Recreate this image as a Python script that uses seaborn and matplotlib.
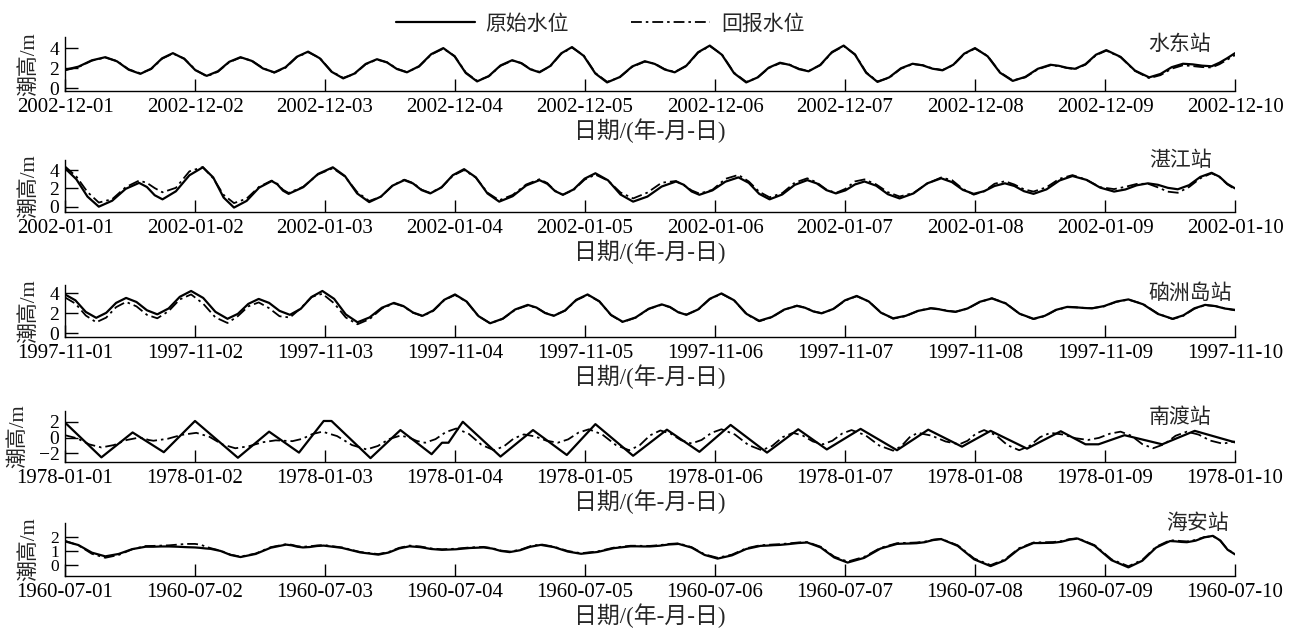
import numpy as np
import pandas as pd
import matplotlib
matplotlib.use("Agg")
import matplotlib.pyplot as plt
import matplotlib.dates as mdates
from matplotlib.lines import Line2D
import seaborn as sns

sns.set_theme(style="ticks")
plt.rcParams["font.family"] = ["Liberation Serif", "Noto Sans CJK SC"]
plt.rcParams["axes.unicode_minus"] = True

# ---------------- data (time in days after the first date, level in m) ----------------
STATIONS = ["水东站", "湛江站", "硇洲岛站", "南渡站", "海安站"]
START_DATES = ["2002-12-01", "2002-01-01", "1997-11-01", "1978-01-01", "1960-07-01"]
LEGEND_LABELS = ["原始水位", "回报水位"]
Y_TICKS = [[0, 2, 4], [0, 2, 4], [0, 2, 4], [-2, 0, 2], [0, 1, 2]]

# 水东站
SD_T = [0, .103, .207, .31, .40, .49, .58, .663, .747, .83, .917, 1.003, 1.09, 1.177, 1.263, 1.35,
        1.437, 1.523, 1.61, 1.697, 1.783, 1.87, 1.96, 2.05, 2.14, 2.227, 2.313, 2.40, 2.477, 2.553,
        2.63, 2.723, 2.817, 2.91, 2.997, 3.083, 3.17, 3.26, 3.35, 3.44, 3.51, 3.58, 3.65, 3.733,
        3.817, 3.90, 3.99, 4.08, 4.17, 4.267, 4.363, 4.46, 4.537, 4.613, 4.69, 4.78, 4.87, 4.96,
        5.053, 5.147, 5.24, 5.327, 5.413, 5.50, 5.573, 5.647, 5.72, 5.81, 5.90, 5.99, 6.077, 6.163,
        6.25, 6.34, 6.43, 6.52, 6.597, 6.673, 6.75, 6.833, 6.917, 7.0, 7.097, 7.193, 7.29, 7.387,
        7.483, 7.58, 7.643, 7.707, 7.77, 7.85, 7.93, 8.01, 8.12, 8.23, 8.34, 8.427, 8.513, 8.60,
        8.673, 8.747, 8.82, 8.88, 8.94, 9.0]
SD_OBS = [1.85, 2.16, 2.79, 3.1, 2.69, 1.86, 1.45, 1.96, 2.99, 3.5, 2.94, 1.81, 1.25, 1.71, 2.64, 3.1,
          2.73, 1.98, 1.6, 2.11, 3.14, 3.65, 2.99, 1.66, 1.0, 1.48, 2.43, 2.9, 2.58, 1.93, 1.6, 2.2,
          3.4, 4.0, 3.18, 1.53, 0.7, 1.23, 2.28, 2.8, 2.5, 1.9, 1.6, 2.23, 3.48, 4.1, 3.23, 1.48, 0.6,
          1.13, 2.18, 2.7, 2.43, 1.88, 1.6, 2.26, 3.59, 4.25, 3.34, 1.51, 0.6, 1.09, 2.06, 2.55, 2.34,
          1.91, 1.7, 2.34, 3.61, 4.25, 3.35, 1.55, 0.65, 1.1, 2.0, 2.45, 2.29, 1.96, 1.8, 2.35, 3.45,
          4.0, 3.19, 1.56, 0.75, 1.15, 1.95, 2.35, 2.25, 2.05, 1.95, 2.41, 3.34, 3.8, 3.13, 1.78, 1.1,
          1.44, 2.11, 2.45, 2.39, 2.26, 2.2, 2.55, 3.0, 3.5]
SD_FC = [1.8, 2.12, 2.76, 3.06, 2.72, 1.9, 1.5, 1.92, 2.95, 3.46, 2.97, 1.85, 1.2, 1.66, 2.6, 3.06,
         2.76, 2.02, 1.56, 2.06, 3.1, 3.6, 3.02, 1.7, 1.05, 1.44, 2.4, 2.86, 2.6, 1.96, 1.62, 2.16,
         3.36, 3.95, 3.22, 1.58, 0.76, 1.2, 2.24, 2.76, 2.53, 1.93, 1.64, 2.2, 3.44, 4.05, 3.27, 1.53,
         0.66, 1.1, 2.14, 2.66, 2.46, 1.92, 1.64, 2.22, 3.55, 4.2, 3.38, 1.56, 0.66, 1.06, 2.02, 2.5,
         2.37, 1.95, 1.74, 2.3, 3.56, 4.2, 3.39, 1.6, 0.7, 1.06, 1.96, 2.41, 2.32, 1.99, 1.83, 2.31,
         3.41, 3.96, 3.23, 1.6, 0.8, 1.1, 1.9, 2.3, 2.22, 2.03, 1.92, 2.36, 3.29, 3.75, 3.1, 1.74,
         1.02, 1.32, 1.96, 2.3, 2.22, 2.12, 2.08, 2.4, 2.85, 3.3]

# 湛江站
ZJ_T = [0, .087, .173, .26, .363, .467, .57, .63, .69, .75, .853, .957, 1.06, 1.14, 1.22, 1.30,
        1.397, 1.493, 1.59, 1.633, 1.677, 1.72, 1.833, 1.947, 2.06, 2.153, 2.247, 2.34, 2.43, 2.52,
        2.61, 2.677, 2.743, 2.81, 2.897, 2.983, 3.07, 3.16, 3.25, 3.34, 3.443, 3.547, 3.65, 3.71,
        3.77, 3.83, 3.913, 3.997, 4.08, 4.177, 4.273, 4.37, 4.48, 4.59, 4.70, 4.76, 4.82, 4.88, 4.98,
        5.08, 5.18, 5.26, 5.34, 5.42, 5.517, 5.613, 5.71, 5.783, 5.857, 5.93, 6.003, 6.077, 6.15,
        6.24, 6.33, 6.42, 6.527, 6.633, 6.74, 6.823, 6.907, 6.99, 7.07, 7.15, 7.23, 7.303, 7.377,
        7.45, 7.55, 7.65, 7.75, 7.857, 7.963, 8.07, 8.157, 8.243, 8.33, 8.407, 8.483, 8.56, 8.647,
        8.733, 8.82, 8.88, 8.94, 9.0]
ZJ_OBS = [4.2, 3.0, 1.1, 0.0, 0.65, 1.95, 2.6, 2.15, 1.25, 0.8, 1.68, 3.43, 4.3, 3.2, 1.0, -0.1,
          0.63, 2.08, 2.8, 2.45, 1.75, 1.4, 2.13, 3.58, 4.3, 3.35, 1.45, 0.5, 1.1, 2.3, 2.9, 2.54,
          1.81, 1.45, 2.11, 3.44, 4.1, 3.21, 1.44, 0.55, 1.14, 2.31, 2.9, 2.5, 1.7, 1.3, 1.89, 3.06,
          3.65, 2.88, 1.33, 0.55, 1.1, 2.2, 2.75, 2.39, 1.66, 1.3, 1.78, 2.73, 3.2, 2.6, 1.4, 0.8,
          1.33, 2.38, 2.9, 2.54, 1.81, 1.45, 1.78, 2.43, 2.75, 2.29, 1.36, 0.9, 1.45, 2.55, 3.1, 2.68,
          1.83, 1.4, 1.69, 2.26, 2.55, 2.26, 1.69, 1.4, 1.89, 2.86, 3.35, 2.93, 2.08, 1.65, 1.88,
          2.33, 2.55, 2.39, 2.06, 1.9, 2.35, 3.25, 3.7, 3.28, 2.5, 2.0]
ZJ_FC = [4.4, 3.3, 1.6, 0.45, 0.82, 2.13, 2.85, 2.6, 2.03, 1.57, 2.06, 3.86, 4.33, 3.1, 1.29, 0.39,
         0.88, 2.17, 2.85, 2.5, 1.85, 1.5, 2.18, 3.53, 4.2, 3.3, 1.6, 0.62, 1.09, 2.32, 2.95, 2.59,
         1.86, 1.5, 2.13, 3.38, 4.0, 3.18, 1.53, 0.7, 1.28, 2.42, 3.0, 2.58, 1.73, 1.3, 1.85, 2.95,
         3.5, 2.85, 1.55, 0.9, 1.54, 2.62, 2.8, 2.35, 1.78, 1.43, 1.84, 3.04, 3.47, 2.75, 1.63, 1.02,
         1.48, 2.62, 3.1, 2.65, 1.87, 1.5, 1.95, 2.76, 2.98, 2.43, 1.58, 1.11, 1.5, 2.53, 3.19, 2.9,
         1.93, 1.31, 1.68, 2.5, 2.78, 2.42, 1.89, 1.65, 2.12, 3.05, 3.45, 2.94, 2.13, 1.92, 2.17,
         2.48, 2.51, 2.11, 1.64, 1.52, 2.15, 3.1, 3.65, 3.25, 2.45, 1.9]

# 硇洲岛站
NZ_T = [0, .08, .16, .24, .317, .393, .47, .55, .63, .71, .797, .883, .97, 1.063, 1.157, 1.25, 1.33,
        1.41, 1.49, 1.57, 1.65, 1.73, 1.813, 1.897, 1.98, 2.07, 2.16, 2.25, 2.343, 2.437, 2.53,
        2.603, 2.677, 2.75, 2.833, 2.917, 3.0, 3.09, 3.18, 3.27, 3.367, 3.463, 3.56, 3.627, 3.693,
        3.76, 3.847, 3.933, 4.02, 4.11, 4.2, 4.29, 4.39, 4.49, 4.59, 4.653, 4.717, 4.78, 4.87, 4.96,
        5.05, 5.147, 5.243, 5.34, 5.437, 5.533, 5.63, 5.693, 5.757, 5.82, 5.91, 6.0, 6.09, 6.183,
        6.277, 6.37, 6.467, 6.563, 6.66, 6.723, 6.787, 6.85, 6.943, 7.037, 7.13, 7.237, 7.343, 7.45,
        7.537, 7.623, 7.71, 7.773, 7.837, 7.9, 7.993, 8.087, 8.18, 8.293, 8.407, 8.52, 8.603, 8.687,
        8.77, 8.847, 8.923, 9.0]
NZ_OBS = [3.9, 3.31, 2.14, 1.55, 2.05, 3.05, 3.55, 3.14, 2.31, 1.9, 2.49, 3.66, 4.25, 3.55, 2.15,
          1.45, 1.95, 2.95, 3.45, 3.05, 2.25, 1.85, 2.45, 3.65, 4.25, 3.46, 1.89, 1.1, 1.59, 2.56,
          3.05, 2.73, 2.08, 1.75, 2.29, 3.36, 3.9, 3.18, 1.73, 1.0, 1.46, 2.39, 2.85, 2.58, 2.03,
          1.75, 2.29, 3.36, 3.9, 3.21, 1.84, 1.15, 1.59, 2.46, 2.9, 2.64, 2.11, 1.85, 2.39, 3.46, 4.0,
          3.31, 1.94, 1.25, 1.63, 2.38, 2.75, 2.56, 2.19, 2.0, 2.44, 3.31, 3.75, 3.19, 2.06, 1.5,
          1.75, 2.25, 2.5, 2.41, 2.24, 2.15, 2.49, 3.16, 3.5, 2.99, 1.96, 1.45, 1.75, 2.35, 2.65,
          2.61, 2.54, 2.5, 2.73, 3.18, 3.4, 2.91, 1.94, 1.45, 1.8, 2.5, 2.85, 2.73, 2.48, 2.35]
NZ_FC = [3.6, 2.98, 1.78, 1.1, 1.57, 2.62, 3.15, 2.7, 1.85, 1.5, 2.22, 3.4, 3.9, 2.97, 1.59, 1.03,
         1.72, 2.7, 3.1, 2.52, 1.71, 1.58, 2.5, 3.65, 3.97, 3.01, 1.58, 0.9, 1.42, 2.48, 3.0, 2.7,
         2.06, 1.72, 2.25, 3.32, 3.85, 3.15, 1.72, 1.0, 1.44, 2.36, 2.8, 2.56, 2.05, 1.78, 2.27,
         3.32, 3.85, 3.2, 1.82, 1.12, 1.56, 2.44, 2.86, 2.62, 2.12, 1.88, 2.37, 3.43, 3.96, 3.3, 1.9,
         1.2, 1.6, 2.36, 2.78, 2.58, 2.2, 2.02, 2.42, 3.28, 3.72, 3.2, 2.08, 1.46, 1.72, 2.26, 2.53,
         2.44, 2.27, 2.16, 2.47, 3.13, 3.52, 3.02, 1.95, 1.42, 1.72, 2.33, 2.62, 2.6, 2.55, 2.52,
         2.7, 3.15, 3.38, 2.94, 1.98, 1.42, 1.76, 2.46, 2.82, 2.74, 2.5, 2.3]

# 南渡站 (observed trace is piecewise linear: its turning points)
ND_OBS_T = [0.0, 0.28, 0.52, 0.76, 1.0, 1.33, 1.57, 1.80, 1.99, 2.05, 2.35, 2.58, 2.82, 2.90,
            2.95, 3.06, 3.35, 3.60, 3.86, 4.08, 4.37, 4.63, 4.88, 5.12, 5.40, 5.64, 5.86, 6.12,
            6.40, 6.64, 6.90, 7.12, 7.40, 7.66, 7.85, 7.95, 8.15, 8.44, 8.69, 9.0]
ND_OBS = [1.9, -2.5, 0.65, -1.85, 2.1, -2.55, 0.75, -1.9, 2.1, 2.1, -2.6, 0.95, -2.1, -0.65,
          -0.65, 2.0, -2.4, 0.95, -2.2, 1.7, -2.3, 1.0, -1.8, 1.6, -1.9, 1.05, -1.5, 1.1, -1.6,
          1.0, -1.15, 0.85, -1.4, 0.8, -0.85, -0.85, 0.3, -0.85, 0.85, -0.6]
ND_FC_T = [0, .093, .187, .28, .377, .473, .57, .607, .643, .68, .79, .9, 1.01, 1.11, 1.21, 1.31,
           1.413, 1.517, 1.62, 1.663, 1.707, 1.75, 1.827, 1.903, 1.98, 2.093, 2.207, 2.32, 2.407,
           2.493, 2.58, 2.643, 2.707, 2.77, 2.85, 2.93, 3.01, 3.107, 3.203, 3.30, 3.377, 3.453,
           3.53, 3.617, 3.703, 3.79, 3.87, 3.95, 4.03, 4.133, 4.237, 4.34, 4.42, 4.5, 4.58, 4.66,
           4.74, 4.82, 4.897, 4.973, 5.05, 5.153, 5.257, 5.36, 5.44, 5.52, 5.60, 5.677, 5.753,
           5.83, 5.903, 5.977, 6.05, 6.157, 6.263, 6.37, 6.433, 6.497, 6.56, 6.667, 6.773, 6.88,
           6.943, 7.007, 7.07, 7.16, 7.25, 7.34, 7.42, 7.5, 7.58, 7.677, 7.773, 7.87, 7.953, 8.037,
           8.12, 8.203, 8.287, 8.37, 8.457, 8.543, 8.63, 8.72, 8.81, 8.90, 8.933, 8.967, 9.0]
ND_FC = [0.3, -0.09, -0.86, -1.25, -0.94, -0.31, 0.0, -0.1, -0.3, -0.4, -0.15, 0.35, 0.6, 0.11,
         -0.86, -1.35, -1.1, -0.6, -0.35, -0.38, -0.42, -0.45, -0.15, 0.45, 0.75, 0.19, -0.94,
         -1.5, -1.06, -0.19, 0.25, 0.03, -0.43, -0.65, -0.2, 0.7, 1.15, 0.46, -0.91, -1.6, -1.1,
         -0.1, 0.4, 0.14, -0.39, -0.65, -0.23, 0.63, 1.05, 0.39, -0.94, -1.6, -0.98, 0.28, 0.9,
         0.49, -0.34, -0.75, -0.3, 0.6, 1.05, 0.39, -0.94, -1.6, -1.05, 0.05, 0.6, 0.24, -0.49,
         -0.85, -0.4, 0.5, 0.95, 0.3, -1.0, -1.65, -1.09, 0.04, 0.6, 0.24, -0.49, -0.85, -0.4, 0.5,
         0.95, 0.31, -0.96, -1.6, -1.05, 0.05, 0.6, 0.38, -0.08, -0.3, -0.04, 0.49, 0.75, 0.23,
         -0.83, -1.35, -0.83, 0.23, 0.75, 0.38, -0.38, -0.75, -0.69, -0.56, -0.5]

# 海安站
HA_T = [0, .103, .207, .31, .413, .517, .62, .68, .74, .80, .867, .933, 1.0, 1.04, 1.08, 1.12, 1.197,
        1.273, 1.35, 1.467, 1.583, 1.70, 1.743, 1.787, 1.83, 1.883, 1.937, 1.99, 2.13, 2.27, 2.41,
        2.49, 2.57, 2.65, 2.733, 2.817, 2.90, 3.007, 3.113, 3.22, 3.287, 3.353, 3.42, 3.5, 3.58,
        3.66, 3.763, 3.867, 3.97, 4.097, 4.223, 4.35, 4.4, 4.45, 4.50, 4.573, 4.647, 4.72, 4.82,
        4.92, 5.02, 5.13, 5.24, 5.35, 5.4, 5.45, 5.50, 5.57, 5.64, 5.71, 5.813, 5.917, 6.02, 6.147,
        6.273, 6.40, 6.45, 6.5, 6.55, 6.613, 6.677, 6.74, 6.867, 6.993, 7.12, 7.23, 7.34, 7.45, 7.5,
        7.55, 7.60, 7.663, 7.727, 7.79, 7.92, 8.05, 8.18, 8.287, 8.393, 8.50, 8.543, 8.587, 8.63,
        8.697, 8.763, 8.83, 8.887, 8.943, 9.0]
HA_OBS = [1.68, 1.42, 0.88, 0.62, 0.79, 1.13, 1.3, 1.3, 1.32, 1.32, 1.3, 1.27, 1.25, 1.22, 1.18,
          1.15, 1.0, 0.72, 0.57, 0.79, 1.23, 1.45, 1.4, 1.3, 1.25, 1.28, 1.35, 1.38, 1.22, 0.9,
          0.74, 0.89, 1.18, 1.33, 1.27, 1.14, 1.08, 1.12, 1.21, 1.25, 1.17, 1.0, 0.92, 1.05, 1.3,
          1.43, 1.27, 0.96, 0.8, 0.93, 1.2, 1.33, 1.33, 1.32, 1.32, 1.37, 1.46, 1.5, 1.24, 0.72,
          0.46, 0.69, 1.14, 1.36, 1.38, 1.41, 1.43, 1.49, 1.56, 1.6, 1.25, 0.54, 0.18, 0.51, 1.17,
          1.5, 1.52, 1.53, 1.55, 1.62, 1.77, 1.84, 1.36, 0.41, -0.07, 0.34, 1.15, 1.56, 1.56, 1.57,
          1.58, 1.65, 1.8, 1.88, 1.37, 0.35, -0.16, 0.31, 1.24, 1.7, 1.68, 1.64, 1.62, 1.73, 1.96,
          2.07, 1.74, 1.09, 0.76]
HA_FC = [1.72, 1.4, 0.8, 0.52, 0.72, 1.12, 1.35, 1.36, 1.38, 1.4, 1.45, 1.5, 1.5, 1.45, 1.32, 1.2,
         1.02, 0.74, 0.6, 0.82, 1.27, 1.48, 1.44, 1.34, 1.3, 1.33, 1.39, 1.42, 1.25, 0.93, 0.78,
         0.93, 1.22, 1.38, 1.32, 1.18, 1.12, 1.16, 1.25, 1.29, 1.2, 1.03, 0.96, 1.08, 1.34, 1.47,
         1.3, 1.0, 0.84, 0.97, 1.24, 1.37, 1.37, 1.36, 1.36, 1.41, 1.5, 1.54, 1.27, 0.76, 0.52,
         0.74, 1.19, 1.41, 1.43, 1.46, 1.48, 1.54, 1.6, 1.63, 1.3, 0.6, 0.25, 0.58, 1.22, 1.55,
         1.57, 1.58, 1.6, 1.66, 1.8, 1.86, 1.4, 0.47, 0.0, 0.4, 1.2, 1.6, 1.61, 1.62, 1.63, 1.7,
         1.84, 1.9, 1.41, 0.41, -0.08, 0.37, 1.3, 1.76, 1.74, 1.7, 1.68, 1.78, 1.98, 2.05, 1.72,
         1.1, 0.8]

OBS_SERIES = [(SD_T, SD_OBS), (ZJ_T, ZJ_OBS), (NZ_T, NZ_OBS), (ND_OBS_T, ND_OBS), (HA_T, HA_OBS)]
FC_SERIES = [(SD_T, SD_FC), (ZJ_T, ZJ_FC), (NZ_T, NZ_FC), (ND_FC_T, ND_FC), (HA_T, HA_FC)]

# ---------------- layout ----------------
W, H = 1289, 628
X0, X1 = 65, 1235
PANEL_TOP_BOTTOM = [(37, 91), (160, 211.7), (285, 336.7), (410.7, 461.7), (522.7, 576)]
YLIMS = [(-0.25, 5.1), (-0.55, 5.1), (-0.35, 4.85), (-3.05, 3.4), (-0.77, 3.0)]
YTICK_SIZES = [14, 14, 14, 14, 12.5]
YLABEL_X = [-0.022, -0.022, -0.022, -0.031, -0.022]
NAME_POS = [(0.9256, 0.84), (0.9265, 0.98), (0.9256, 0.83), (0.9265, 0.85), (0.941, 0.98)]

DASHDOT = (0, (6, 2.2, 1.4, 2.2))


def frame(days, values, start):
    t = pd.Timestamp(start) + pd.to_timedelta(np.asarray(days, float), unit="D")
    return pd.DataFrame({"time": t, "level": values})


fig = plt.figure(figsize=(W / 100, H / 100), dpi=100)

for i in range(5):
    top, bot = PANEL_TOP_BOTTOM[i]
    ax = fig.add_axes([X0 / W, 1 - bot / H, (X1 - X0) / W, (bot - top) / H])
    start = pd.Timestamp(START_DATES[i])
    df_o = frame(*OBS_SERIES[i], start)
    df_f = frame(*FC_SERIES[i], start)
    sns.lineplot(data=df_f, x="time", y="level", ax=ax, color="black", lw=1.3,
                 linestyle=DASHDOT)
    sns.lineplot(data=df_o, x="time", y="level", ax=ax, color="black", lw=1.6)

    ax.set_xlim(start, start + pd.Timedelta(days=9))
    ax.set_ylim(*YLIMS[i])
    ax.set_yticks(Y_TICKS[i])
    ax.xaxis.set_major_locator(mdates.DayLocator())
    ax.xaxis.set_major_formatter(mdates.DateFormatter("%Y-%m-%d"))
    for s in ["top", "right"]:
        ax.spines[s].set_visible(False)
    for s in ["left", "bottom"]:
        ax.spines[s].set_linewidth(1.0)
        ax.spines[s].set_color("black")
    ax.tick_params(axis="both", direction="in", length=9, width=1.0, colors="black")
    ax.tick_params(axis="x", pad=5, labelsize=15)
    ax.tick_params(axis="y", pad=4, labelsize=YTICK_SIZES[i])
    ax.set_xlabel("日期/(年-月-日)", fontsize=16.5, labelpad=1)
    ax.set_ylabel("潮高/m", fontsize=15)
    ax.yaxis.set_label_coords(YLABEL_X[i], 0.5)
    ax.text(NAME_POS[i][0], NAME_POS[i][1], STATIONS[i], transform=ax.transAxes,
            ha="left", va="center", fontsize=15)
    ax.grid(False)

handles = [Line2D([], [], color="black", lw=1.6),
           Line2D([], [], color="black", lw=1.3, linestyle=DASHDOT)]
fig.legend(handles, LEGEND_LABELS, loc="center", bbox_to_anchor=(600 / W, 1 - 25 / H),
           ncol=2, frameon=False, fontsize=15, handlelength=3.8, handletextpad=0.5,
           columnspacing=3.0)

fig.savefig("out.png", dpi=100)
